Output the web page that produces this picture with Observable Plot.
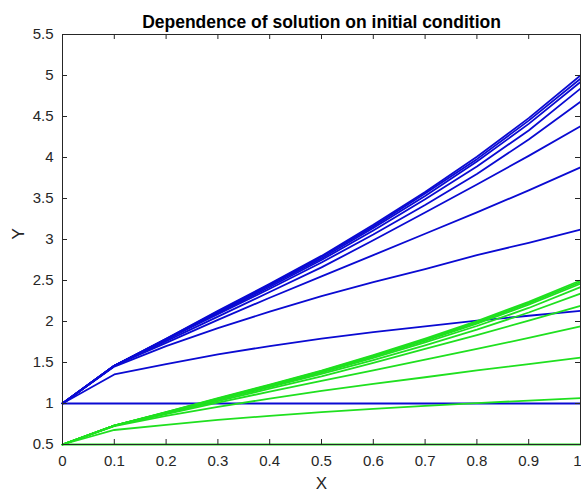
<!DOCTYPE html>
<html>
<head>
<meta charset="utf-8">
<script src="https://cdn.jsdelivr.net/npm/d3@7"></script>
<script src="https://cdn.jsdelivr.net/npm/@observablehq/plot@0.6"></script>
<style>
  html, body { margin: 0; padding: 0; background: #fff; }
  #chart { width: 581px; height: 492px; overflow: hidden; }
</style>
</head>
<body>
<div id="chart"></div>
<script>
// ---- data ----
const xValues = [0, 0.1, 0.2, 0.3, 0.4, 0.5, 0.6, 0.7, 0.8, 0.9, 1.0];

// solutions starting at y(0) = 1 (blue)
const blueA = [1, 1.46, 1.79, 2.13, 2.46, 2.80, 3.18, 3.58, 4.01, 4.48, 5.00];
const blueB = [1, 1.46, 1.79, 2.12, 2.45, 2.79, 3.16, 3.56, 3.98, 4.45, 4.96];
const blueC = [1, 1.46, 1.78, 2.11, 2.44, 2.77, 3.14, 3.53, 3.95, 4.41, 4.92];
const blueD = [1, 1.46, 1.78, 2.10, 2.42, 2.75, 3.11, 3.49, 3.89, 4.33, 4.84];
const blueE = [1, 1.46, 1.78, 2.09, 2.40, 2.72, 3.06, 3.42, 3.80, 4.22, 4.68];
const blueF = [1, 1.46, 1.76, 2.06, 2.36, 2.66, 2.99, 3.33, 3.67, 4.02, 4.38];
const blueG = [1, 1.46, 1.74, 2.02, 2.29, 2.55, 2.81, 3.07, 3.33, 3.60, 3.88];
const blueH = [1, 1.45, 1.70, 1.92, 2.12, 2.31, 2.48, 2.64, 2.81, 2.96, 3.12];
const blueI = [1, 1.354, 1.48, 1.60, 1.70, 1.79, 1.87, 1.94, 2.01, 2.07, 2.13];
const blueJ = [1, 1, 1, 1, 1, 1, 1, 1, 1, 1, 1];

// solutions starting at y(0) = 0.5 (green)
const greenA = [0.5, 0.73, 0.895, 1.065, 1.23, 1.40, 1.59, 1.79, 2.005, 2.24, 2.50];
const greenB = [0.5, 0.73, 0.895, 1.06, 1.225, 1.395, 1.58, 1.78, 1.99, 2.225, 2.48];
const greenC = [0.5, 0.73, 0.89, 1.055, 1.22, 1.385, 1.57, 1.765, 1.975, 2.205, 2.46];
const greenD = [0.5, 0.73, 0.89, 1.05, 1.21, 1.375, 1.555, 1.745, 1.945, 2.165, 2.42];
const greenE = [0.5, 0.73, 0.89, 1.045, 1.20, 1.36, 1.53, 1.71, 1.90, 2.11, 2.34];
const greenF = [0.5, 0.73, 0.88, 1.03, 1.18, 1.33, 1.495, 1.665, 1.835, 2.01, 2.19];
const greenG = [0.5, 0.73, 0.87, 1.01, 1.145, 1.275, 1.405, 1.535, 1.665, 1.80, 1.94];
const greenH = [0.5, 0.725, 0.85, 0.96, 1.06, 1.155, 1.24, 1.32, 1.405, 1.48, 1.56];
const greenI = [0.5, 0.677, 0.74, 0.80, 0.85, 0.895, 0.935, 0.97, 1.005, 1.035, 1.065];
const greenJ = [0.5, 0.5, 0.5, 0.5, 0.5, 0.5, 0.5, 0.5, 0.5, 0.5, 0.5];

const blueSeries = [blueA, blueB, blueC, blueD, blueE, blueF, blueG, blueH, blueI, blueJ];
const greenSeries = [greenA, greenB, greenC, greenD, greenE, greenF, greenG, greenH, greenI, greenJ];

const xTicks = [0, 0.1, 0.2, 0.3, 0.4, 0.5, 0.6, 0.7, 0.8, 0.9, 1];
const xTickLabels = ["0", "0.1", "0.2", "0.3", "0.4", "0.5", "0.6", "0.7", "0.8", "0.9", "1"];
const yTicks = [0.5, 1, 1.5, 2, 2.5, 3, 3.5, 4, 4.5, 5, 5.5];
const yTickLabels = ["0.5", "1", "1.5", "2", "2.5", "3", "3.5", "4", "4.5", "5", "5.5"];

const titleText = ["Dependence of solution on initial condition"];
const xLabelText = ["X"];
const yLabelText = ["Y"];

// ---- build tables ----
function toRows(seriesList, group) {
  const out = [];
  seriesList.forEach((ys, i) => {
    ys.forEach((y, j) => out.push({x: xValues[j], y, id: group + i}));
  });
  return out;
}
const blueRows = toRows(blueSeries, "b");
const greenRows = toRows(greenSeries, "g");

const xLabelRows = xTicks.map((t, i) => ({t, label: xTickLabels[i]}));
const xLabelInner = xLabelRows.slice(0, -1);
const xLabelLast = xLabelRows.slice(-1);
const yLabelMap = new Map(yTicks.map((t, i) => [t, yTickLabels[i]]));

const axisColor = "#262626";
const font = "'Liberation Sans', Arial, Helvetica, sans-serif";
const W = 581, H = 492, mL = 62, mR = 1, mT = 34, mB = 48;
const tickLen = 5;
const frameW = W - mL - mR, frameH = H - mT - mB;

const chart = Plot.plot({
  width: W,
  height: H,
  marginLeft: mL,
  marginRight: mR,
  marginTop: mT,
  marginBottom: mB,
  style: {fontFamily: font, background: "#ffffff", overflow: "hidden"},
  x: {domain: [0, 1], axis: null},
  y: {domain: [0.5, 5.5], axis: null},
  marks: [
    Plot.line(blueRows, {x: "x", y: "y", z: "id", stroke: "#0a0ad2", strokeWidth: 1.8, curve: "linear"}),
    Plot.line(greenRows, {x: "x", y: "y", z: "id", stroke: "#1fe01f", strokeWidth: 1.8, curve: "linear"}),
    Plot.frame({stroke: axisColor, strokeWidth: 1}),
    // inward tick marks on all four sides
    Plot.tickX(xTicks, {x: d => d, insetTop: frameH - tickLen, stroke: axisColor}),
    Plot.tickX(xTicks, {x: d => d, insetBottom: frameH - tickLen, stroke: axisColor}),
    Plot.tickY(yTicks, {y: d => d, insetRight: frameW - tickLen, stroke: axisColor}),
    Plot.tickY(yTicks, {y: d => d, insetLeft: frameW - tickLen, stroke: axisColor}),
    // x tick labels (last one right-aligned so it stays inside the picture)
    Plot.text(xLabelInner, {x: "t", text: "label", frameAnchor: "bottom", lineAnchor: "top", dy: 11,
      textAnchor: "middle", fontSize: 15, fill: axisColor}),
    Plot.text(xLabelLast, {x: "t", text: "label", frameAnchor: "bottom", lineAnchor: "top", dy: 11,
      textAnchor: "end", dx: 1, fontSize: 15, fill: axisColor}),
    // y tick labels
    Plot.axisY({anchor: "left", ticks: yTicks, tickSize: 0, tickPadding: 9, tickFormat: d => yLabelMap.get(d),
      fontSize: 15, fill: axisColor, label: null}),
    // title & axis labels
    Plot.text(titleText, {text: d => d, frameAnchor: "top", dy: -19, fontSize: 17.5, fontWeight: "bold", fill: "#000"}),
    Plot.text(xLabelText, {text: d => d, frameAnchor: "bottom", dy: 44, fontSize: 17, fill: axisColor}),
    Plot.text(yLabelText, {text: d => d, frameAnchor: "left", dx: -44, rotate: -90, fontSize: 17, fill: axisColor})
  ]
});

document.getElementById("chart").appendChild(chart);
</script>
</body>
</html>
